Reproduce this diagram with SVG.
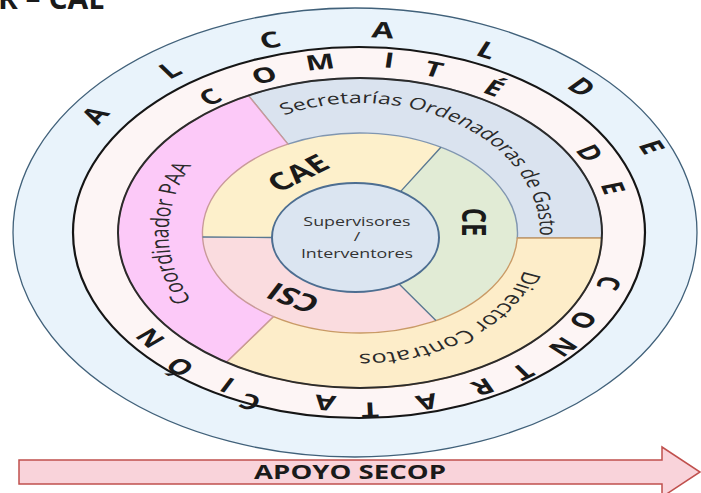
<svg xmlns="http://www.w3.org/2000/svg" width="701" height="493" viewBox="0 0 701 493">
<style>
text { font-family: 'Open Sans', 'Liberation Sans', sans-serif; fill: #1a1a1a; }
.ring { font-size: 22px; font-weight: 700; text-anchor: middle; }
.ring2 { font-size: 21px; font-weight: 700; text-anchor: middle; }
.lbl { font-size: 16px; fill: #2a2a2a; }
.lbl2 { font-size: 17.5px; fill: #2a2a2a; }
.big { font-size: 24px; font-weight: 700; text-anchor: middle; }
.ctr { font-size: 12.3px; fill: #333; text-anchor: middle; }
.bnd2 { fill: none; stroke: #5a7891; stroke-width: 1.4; }
</style>
<defs>
<path id="pSec" d="M 307 115.2 A 124.1 130 0 0 1 483 244.3"/>
<path id="pCoord" d="M 246 306 A 131 142 0 0 1 246 160"/>
<path id="pDir" d="M 472.6 270.4 A 119 121 0 0 1 318.7 346.7"/>
</defs>
<rect width="701" height="493" fill="#ffffff"/>

<g id="title-cut">
<text x="105" y="9" text-anchor="end" font-size="30" font-weight="700">R – CAE</text>
</g>

<g id="alcalde">
<ellipse cx="355" cy="232.5" rx="342" ry="224.5" fill="#e9f3fb" stroke="#41617a" stroke-width="1.3"/>
<g transform="matrix(1.45 0 0 1 -161.1 0)">
<text class="ring" dy=".36em" transform="translate(176.6 115) rotate(-54)">A</text>
<text class="ring" dy=".36em" transform="translate(228.3 70) rotate(-35.4)">L</text>
<text class="ring" dy=".36em" transform="translate(297.3 40) rotate(-15.6)">C</text>
<text class="ring" dy=".36em" transform="translate(375.2 30) rotate(4.6)">A</text>
<text class="ring" dy=".36em" transform="translate(447 50) rotate(23.8)">L</text>
<text class="ring" dy=".36em" transform="translate(512.5 87) rotate(43.7)">D</text>
<text class="ring" dy=".36em" transform="translate(560.8 147) rotate(64.9)">E</text>
</g>
</g>

<g id="comite">
<ellipse cx="359" cy="232.5" rx="286" ry="185.5" fill="#fdf5f5" stroke="#151515" stroke-width="2.2"/>
<g transform="matrix(1.45 0 0 1 -161.1 0)">
<text class="ring2" dy=".36em" transform="translate(255.9 97) rotate(-33.5)">C</text>
<text class="ring2" dy=".36em" transform="translate(293.2 75) rotate(-20)">O</text>
<text class="ring2" dy=".36em" transform="translate(331.8 62) rotate(-7.9)">M</text>
<text class="ring2" dy=".36em" transform="translate(379.4 60) rotate(5.9)">I</text>
<text class="ring2" dy=".36em" transform="translate(410.4 69) rotate(15.3)">T</text>
<text class="ring2" dy=".36em" transform="translate(451.8 88) rotate(28.8)">É</text>
<text class="ring2" dy=".36em" transform="translate(518 153) rotate(60)">D</text>
<text class="ring2" dy=".36em" transform="translate(533.9 188) rotate(73.6)">E</text>
<text class="ring2" dy=".36em" transform="translate(531.1 283) rotate(108.4)">C</text>
<text class="ring2" dy=".36em" transform="translate(513.2 320) rotate(122.9)">O</text>
<text class="ring2" dy=".36em" transform="translate(499.4 347) rotate(132.9)">N</text>
<text class="ring2" dy=".36em" transform="translate(471.8 372) rotate(144.7)">T</text>
<text class="ring2" dy=".36em" transform="translate(444.2 387) rotate(154.3)">R</text>
<text class="ring2" dy=".36em" transform="translate(405.6 402) rotate(166.5)">A</text>
<text class="ring2" dy=".36em" transform="translate(366.3 410) rotate(178)">T</text>
<text class="ring2" dy=".36em" transform="translate(335.2 403) rotate(186.9)">A</text>
<text class="ring2" dy=".36em" transform="translate(283.5 402) rotate(201.3)">C</text>
<text class="ring2" dy=".36em" transform="translate(267.7 385) rotate(207.7)">I</text>
<text class="ring2" dy=".36em" transform="translate(235.2 367) rotate(218.9)">Ó</text>
<text class="ring2" dy=".36em" transform="translate(214.6 338) rotate(230.2)">N</text>
</g>
</g>

<g id="cae">
<path d="M 202.6 237 A 157.5 100 0 0 1 440.9 147.2 L 400.5 191.6 A 83.5 54.5 0 0 0 272 237.5 Z" fill="#fdf0cb"/>
<text class="big" dy=".36em" transform="matrix(1.45 0 0 1 -161.1 0) translate(316.6 173) rotate(-35)">CAE</text>
</g>
<g id="ce">
<path d="M 440.9 147.2 A 157.5 100 0 0 1 435.9 320.6 L 399.1 284 A 83.5 54.5 0 0 0 400.5 191.6 Z" fill="#e1ebd5"/>
<text class="big" dy=".36em" transform="matrix(1.45 0 0 1 -161.1 0) translate(438.3 222) rotate(90)">CE</text>
</g>
<g id="csi">
<path d="M 435.9 320.6 A 157.5 100 0 0 1 202.6 237 L 272 237.5 A 83.5 54.5 0 0 0 399.1 284 Z" fill="#fadcdf"/>
<text class="big" dy=".36em" transform="matrix(1.45 0 0 1 -161.1 0) translate(313.2 298) rotate(208)">CSI</text>
</g>

<g id="secretarias">
<path d="M 248.4 95.5 A 242 155 0 0 1 601.9 238 L 517.3 238 A 157.5 100 0 0 0 287.9 144.1 Z" fill="#dae3ef" stroke="#8096b0" stroke-width="1.4"/>
<text class="lbl" transform="matrix(1.45 0 0 1 -161.1 0)"><textPath href="#pSec">Secretarías Ordenadoras de Gasto</textPath></text>
</g>
<g id="director">
<path d="M 601.9 238 A 242 155 0 0 1 226.3 362.2 L 273.5 316.6 A 157.5 100 0 0 0 517.3 238 Z" fill="#fdedc9" stroke="#c99a66" stroke-width="1.4"/>
<text class="lbl2" transform="matrix(1.45 0 0 1 -161.1 0)"><textPath href="#pDir">Director Contratos</textPath></text>
</g>
<g id="coordinador">
<path d="M 226.3 362.2 A 242 155 0 0 1 248.4 95.5 L 287.9 144.1 A 157.5 100 0 0 0 273.5 316.6 Z" fill="#fcc9f8" stroke="#c99a9a" stroke-width="1.4"/>
<text class="lbl2" text-anchor="middle" transform="matrix(1.45 0 0 1 -161.1 0)"><textPath href="#pCoord" startOffset="50%">Coordinador PAA</textPath></text>
</g>

<g id="ring-lines">
<ellipse cx="360" cy="233" rx="242" ry="155" fill="none" stroke="#2b2b2b" stroke-width="2"/>
<path class="bnd2" d="M 202.6 237 L 272 237.5 M 440.9 147.2 L 400.5 191.6 M 435.9 320.6 L 399.1 284"/>
</g>

<g id="supervisores">
<ellipse cx="355.5" cy="237.5" rx="83.5" ry="54.5" fill="#dbe5f1" stroke="#4d6e91" stroke-width="2"/>
<g transform="matrix(1.45 0 0 1 -161.1 0)">
<text class="ctr" x="357.3" y="226">Supervisores</text>
<text class="ctr" x="357.3" y="241.5">/</text>
<text class="ctr" x="357.3" y="258">Interventores</text>
</g>
</g>

<g id="apoyo-secop">
<polygon points="19,460 662,460 662,447 700,472 662,497 662,484 19,484" fill="#f9d3da" stroke="#c0504d" stroke-width="1.5"/>
<text x="352.5" y="479" text-anchor="middle" font-size="19" font-weight="700" transform="matrix(1.45 0 0 1 -161.1 0)">APOYO SECOP</text>
</g>
</svg>
